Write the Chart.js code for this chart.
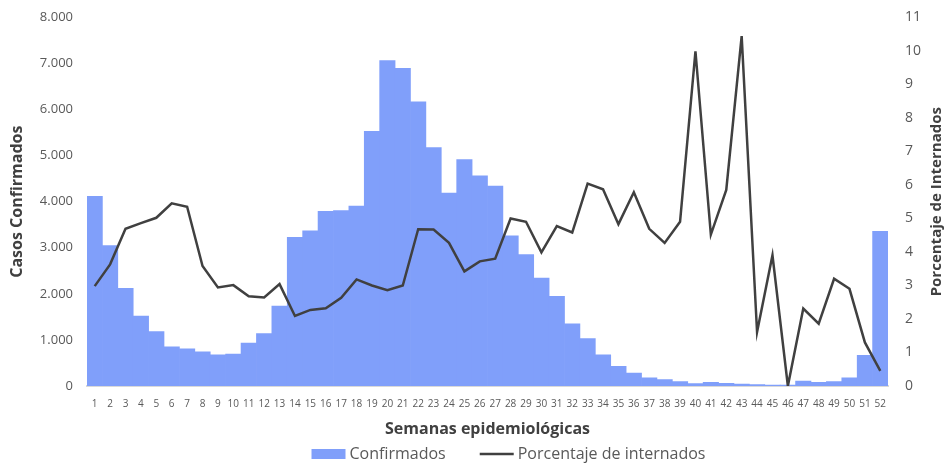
<!DOCTYPE html>
<html>
<head>
<meta charset="utf-8">
<script src="https://cdn.jsdelivr.net/npm/chart.js@4.4.1/dist/chart.umd.min.js"></script>
<style>
  html,body{margin:0;padding:0;background:#fff}
</style>
</head>
<body>
<canvas id="c" width="947" height="463"></canvas>
<script>
const SEMANAS = Array.from({length:52},(_,i)=>String(i+1));
const CONFIRMADOS = [4115,3050,2120,1515,1180,850,807,742,677,692,
  930,1139,1737,3229,3366,3791,3805,3906,5528,7063,
  6897,6169,5175,4187,4915,4562,4339,3258,2854,2342,
  1946,1348,1030,677,425,281,180,137,94,50,
  79,58,43,30,20,20,108,80,94,180,663,3358];
const PCT_INTERNADOS = [2.98,3.63,4.69,4.86,5.02,5.45,5.35,3.58,2.94,3.01,
  2.68,2.64,3.04,2.09,2.27,2.32,2.63,3.18,3.0,2.86,
  3.0,4.68,4.67,4.27,3.42,3.72,3.80,5.0,4.90,3.99,
  4.77,4.58,6.04,5.87,4.83,5.78,4.69,4.27,4.90,9.99,
  4.52,5.85,10.44,1.61,3.90,0.0,2.31,1.86,3.20,2.90,1.30,0.45];

const FONT = "'Open Sans', sans-serif";
const BAR = '#809ffa', LINE = '#404040', TXT = '#595959', TITLE = '#404040';
const miles = v => String(v).replace(/\B(?=(\d{3})+(?!\d))/g,'.');

/* right-axis title reads bottom-to-top + legend drawn by hand (Excel-style spacing) */
const extras = {
  id:'extras',
  afterDraw(chart){
    const ctx = chart.ctx, y1 = chart.scales.y1;
    ctx.save();
    ctx.fillStyle = TITLE;
    ctx.font = `bold 15px ${FONT}`;
    ctx.textAlign = 'center'; ctx.textBaseline = 'middle';
    ctx.translate(y1.right - 10, (y1.top + y1.bottom) / 2);
    ctx.rotate(-Math.PI / 2);
    ctx.fillText('Porcentaje de Internados', 0, 0);
    ctx.restore();

    const items = chart.data.datasets.slice().reverse();
    ctx.save();
    ctx.font = `16px ${FONT}`;
    ctx.textBaseline = 'middle'; ctx.textAlign = 'left';
    const sw = 34, gapT = 4, gapI = 34;
    const widths = items.map(d => sw + gapT + ctx.measureText(d.label).width);
    const total = widths.reduce((a,b)=>a+b,0) + gapI*(items.length-1);
    let x = chart.width/2 + 35 - total/2;
    const yc = 454;
    items.forEach((d,i) => {
      if (d.type === 'bar') {
        ctx.fillStyle = d.backgroundColor;
        ctx.fillRect(x, yc - 5, sw, 10);
      } else {
        ctx.strokeStyle = d.borderColor; ctx.lineWidth = d.borderWidth;
        ctx.beginPath(); ctx.moveTo(x, yc); ctx.lineTo(x + sw, yc); ctx.stroke();
      }
      ctx.fillStyle = TXT;
      ctx.fillText(d.label, x + sw + gapT, yc);
      x += widths[i] + gapI;
    });
    ctx.restore();
  }
};

new Chart(document.getElementById('c'), {
  data:{
    labels:SEMANAS,
    datasets:[
      {type:'line', label:'Porcentaje de internados', data:PCT_INTERNADOS, yAxisID:'y1',
       borderColor:LINE, backgroundColor:LINE, borderWidth:2.5, pointRadius:0, tension:0, order:1},
      {type:'bar', label:'Confirmados', data:CONFIRMADOS, yAxisID:'y',
       backgroundColor:BAR, borderWidth:0, barPercentage:1, categoryPercentage:1, order:2}
    ]
  },
  options:{
    responsive:false, animation:false, devicePixelRatio:1,
    layout:{padding:{top:4, bottom:20}},
    plugins:{legend:{display:false}, tooltip:{enabled:false}},
    scales:{
      x:{grid:{display:false}, border:{color:'#d9d9d9', width:2},
        ticks:{autoSkip:false, maxRotation:0, color:TXT, padding:4, font:{family:FONT, size:10}},
        title:{display:true, text:'Semanas epidemiológicas', color:TITLE, font:{family:FONT, size:16, weight:'bold'}},
        afterFit:s=>{ s.height = 57; }},
      y:{position:'left', min:0, max:8000, grid:{display:false}, border:{display:false},
        ticks:{stepSize:1000, color:TXT, padding:6, font:{family:FONT, size:13}, callback:v=>miles(v)},
        title:{display:true, text:'Casos Confirmados', color:TITLE, padding:{top:8, bottom:0},
          font:{family:FONT, size:16, weight:'bold'}},
        afterFit:s=>{ s.width = 87; }},
      y1:{position:'right', min:0, max:11, grid:{display:false}, border:{display:false},
        ticks:{stepSize:1, color:TXT, padding:9, font:{family:FONT, size:14}},
        afterFit:s=>{ s.width = 59; }}
    }
  },
  plugins:[extras]
});
</script>
</body>
</html>
